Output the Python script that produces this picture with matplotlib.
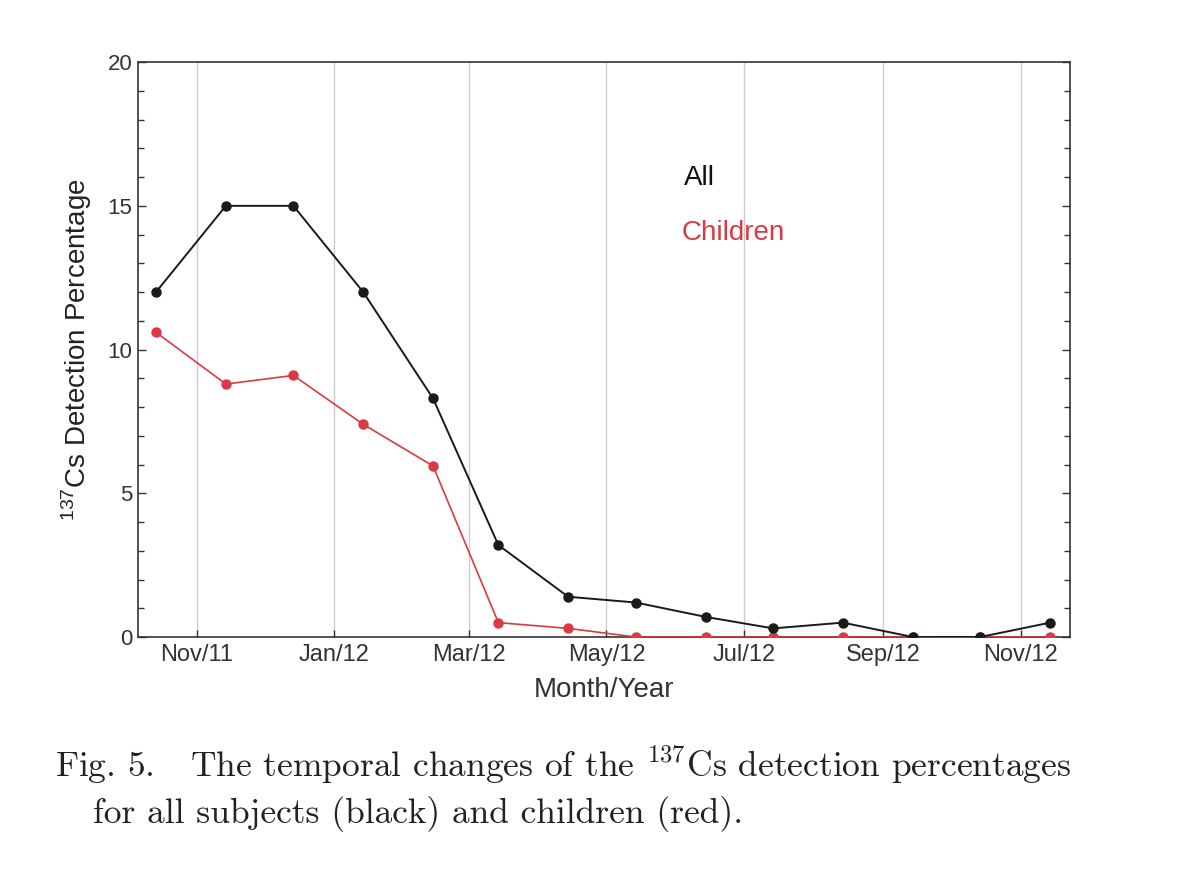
import numpy as np
import pandas as pd
import matplotlib
matplotlib.use("Agg")
import matplotlib.pyplot as plt

plt.rcParams['font.family'] = ['Liberation Sans', 'DejaVu Sans']
plt.rcParams['mathtext.fontset'] = 'custom'
plt.rcParams['mathtext.rm'] = 'Liberation Sans'

# monthly measurements (mid-month), Oct/11 .. Nov/12
months = ["2011-10", "2011-11", "2011-12", "2012-01", "2012-02", "2012-03", "2012-04",
          "2012-05", "2012-06", "2012-07", "2012-08", "2012-09", "2012-10", "2012-11"]
all_pct = [12.0, 15.0, 15.0, 12.0, 8.3, 3.2, 1.4, 1.2, 0.7, 0.3, 0.5, 0.0, 0.0, 0.5]
child_pct = [10.6, 8.8, 9.1, 7.4, 5.95, 0.5, 0.3, 0.0, 0.0, 0.0, 0.0, 0.0, 0.0, 0.0]
tick_months = ["2011-11", "2012-01", "2012-03", "2012-05", "2012-07", "2012-09", "2012-11"]
tick_labels = ["Nov/11", "Jan/12", "Mar/12", "May/12", "Jul/12", "Sep/12", "Nov/12"]

dates = pd.to_datetime([m + "-14" for m in months])
ticks = pd.to_datetime([m + "-01" for m in tick_months])

fig = plt.figure(figsize=(12, 8.75), dpi=100)
ax = fig.add_axes([0.115, 0.272, 0.777, 0.657])

ax.plot(dates, all_pct, color='#1a1a1a', lw=1.4, marker='o', ms=6.5, zorder=4)
ax.plot(dates, child_pct, color='#d93a44', lw=1.2, marker='o', ms=6.5, zorder=3)

ax.set_xlim(pd.Timestamp("2011-10-06"), pd.Timestamp("2012-11-23"))
ax.set_ylim(0, 20)
ax.set_xticks(ticks)
ax.set_xticklabels(tick_labels)
ax.set_yticks([0, 5, 10, 15, 20])
ax.set_yticks(np.arange(0, 21, 1), minor=True)
ax.xaxis.grid(True, color='#cccccc', lw=1)
ax.set_axisbelow(True)

ax.tick_params(axis='x', direction='in', length=5, width=1, colors='#333333',
               labelsize=17, pad=5)
ax.tick_params(axis='y', which='both', direction='in', left=True, right=True,
               colors='#333333', labelsize=16, pad=4)
ax.tick_params(axis='y', which='major', length=6, width=1)
ax.tick_params(axis='y', which='minor', length=4, width=1)
for s in ax.spines.values():
    s.set_color('#333333')
    s.set_linewidth(1.2)

ax.set_xlabel("Month/Year", fontsize=20, color='#333333', labelpad=8)
ax.set_ylabel(r"$^{137}$Cs Detection Percentage", fontsize=20, color='#222222', labelpad=10)

ax.text(0.585, 0.799, "All", transform=ax.transAxes, fontsize=20, color='#111111',
        va='center')
ax.text(0.583, 0.703, "Children", transform=ax.transAxes, fontsize=20, color='#d93a44',
        va='center')

# caption in Computer Modern
fig.text(0.046, 0.112,
         r"Fig. 5.   The temporal changes of the $^{137}$Cs detection percentages",
         fontsize=25.5, family='cmr10', color='#222222', math_fontfamily='cm',
         va='baseline')
fig.text(0.0775, 0.0594, "for all subjects (black) and children (red).",
         fontsize=25.5, family='cmr10', color='#222222', va='baseline')

fig.savefig("out.png", dpi=100)
